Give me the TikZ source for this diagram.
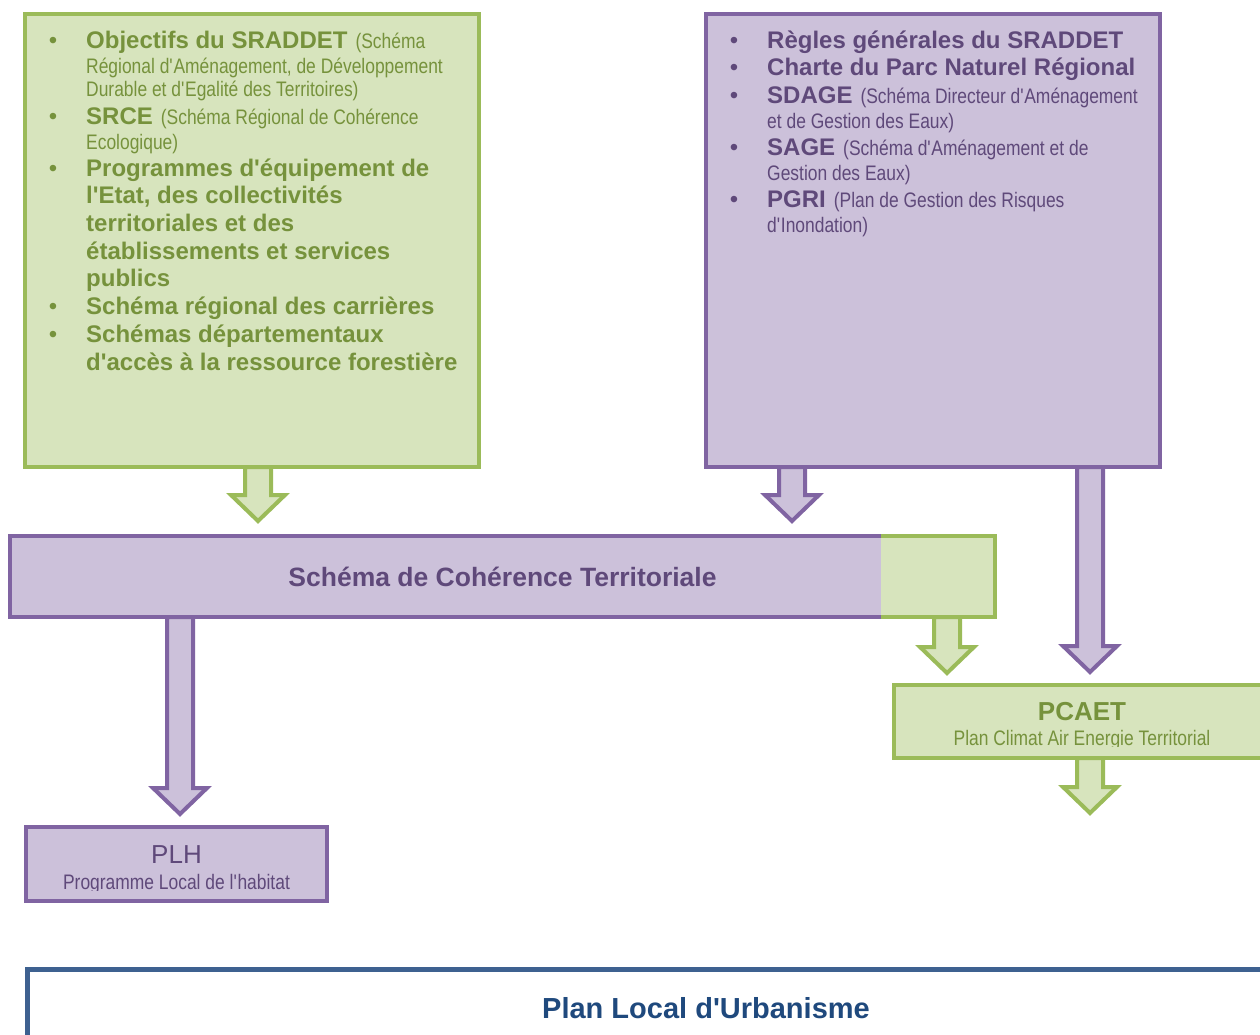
\documentclass[tikz,border=0pt]{standalone}
\usepackage{fontspec}
\setmainfont{Liberation Sans}
\newfontfamily\narrowfont{Liberation Sans}[FakeStretch=0.83]
\usetikzlibrary{calc}
\definecolor{gfill}{HTML}{D7E4BD}
\definecolor{gline}{HTML}{9BBB59}
\definecolor{gtext}{HTML}{76923C}
\definecolor{pfill}{HTML}{CCC1DA}
\definecolor{pline}{HTML}{8064A2}
\definecolor{ptext}{HTML}{5F497A}
\definecolor{bline}{HTML}{3E6190}
\definecolor{btext}{HTML}{1F497D}
\newcommand\B{\fontsize{24}{28}\selectfont\bfseries}
\newcommand\N{\narrowfont\fontsize{21}{24}\selectfont}
\newcommand\q{\textquotesingle}
\newcommand\gap{\hspace{8pt}}
\newcommand\bul{\llap{\fontsize{24}{28}\selectfont\textbullet\hspace{29pt}}}
\tikzset{
  boxG/.style={rectangle, draw=gline, fill=gfill, line width=4pt, inner sep=0pt, outer sep=0pt},
  boxP/.style={rectangle, draw=pline, fill=pfill, line width=4pt, inner sep=0pt, outer sep=0pt},
  fillonly/.style={rectangle, inner sep=0pt, outer sep=0pt, draw=none},
  arrG/.style={draw=gline, fill=gfill, line width=4pt, line join=miter},
  arrP/.style={draw=pline, fill=pfill, line width=4pt, line join=miter},
  gtxt/.style={anchor=base west, inner sep=0pt, text=gtext},
  ptxt/.style={anchor=base west, inner sep=0pt, text=ptext},
  ctext/.style={anchor=base, inner sep=0pt},
}
% block arrow: #1 style, #2 start (top centre), #3 tip
\newcommand\blockarrow[3]{%
  \draw[#1] let \p1=(#2), \p2=(#3) in
    (\x1-13pt,\y1) -- (\x1+13pt,\y1) -- (\x1+13pt,\y2+26pt) -- (\x1+27pt,\y2+26pt)
    -- (\x1,\y2) -- (\x1-27pt,\y2+26pt) -- (\x1-13pt,\y2+26pt) -- cycle;}
\begin{document}
\begin{tikzpicture}[x=1pt,y=-1pt]
\useasboundingbox (0,0) rectangle (1260,1035);
\clip (0,0) rectangle (1260,1035);
\fill[white] (0,0) rectangle (1260,1035);

% boxes
\node[boxG, minimum width=454pt, minimum height=453pt] (gbox) at (252,240.5) {};
\node[boxP, minimum width=454pt, minimum height=453pt] (pbox) at (933,240.5) {};
\node[fillonly, fill=gfill, minimum width=114pt, minimum height=81pt] (scotG) at (938,576.5) {};
\node[fillonly, fill=pfill, minimum width=871pt, minimum height=81pt] (scotP) at (445.5,576.5) {};
\draw[draw=pline, line width=4pt] (scotP.north east) -- (scotP.north west) -- (scotP.south west) -- (scotP.south east);
\draw[draw=gline, line width=4pt] (scotG.north west) -- (scotG.north east) -- (scotG.south east) -- (scotG.south west);
\node[boxG, minimum width=376pt, minimum height=73pt] (pcaet) at (1082,721.5) {};
\node[boxP, minimum width=301pt, minimum height=74pt] (plh) at (176.5,864) {};
\node[rectangle, draw=bline, fill=white, line width=5pt, inner sep=0pt, outer sep=0pt,
      minimum width=1358pt, minimum height=78pt] (plu) at (706,1008) {};

% arrow end points
\coordinate (a1s) at (258,0 |- gbox.south);
\coordinate (a1t) at ($(258,0 |- scotP.north)+(0,-15)$);
\coordinate (a2s) at (792,0 |- pbox.south);
\coordinate (a2t) at ($(792,0 |- scotP.north)+(0,-15)$);
\coordinate (a3s) at (180,0 |- scotP.south);
\coordinate (a3t) at ($(180,0 |- plh.north)+(0,-13)$);
\coordinate (a4s) at (947,0 |- scotG.south);
\coordinate (a4t) at ($(947,0 |- pcaet.north)+(0,-12)$);
\coordinate (a5s) at (1090,0 |- pbox.south);
\coordinate (a5t) at ($(1090,0 |- pcaet.north)+(0,-13)$);
\coordinate (a6s) at (1090,0 |- pcaet.south);
\coordinate (a6t) at ($(a6s)+(0,55)$);

\blockarrow{arrG}{a1s}{a1t}
\blockarrow{arrP}{a2s}{a2t}
\blockarrow{arrP}{a3s}{a3t}
\blockarrow{arrG}{a4s}{a4t}
\blockarrow{arrP}{a5s}{a5t}
\blockarrow{arrG}{a6s}{a6t}

% green list
\node[gtxt] (g1) at (86,49) {\bul{\B Objectifs du SRADDET}\gap{\N (Schéma}};
\node[gtxt] (g2) at (86,73.5) {\N Régional d\q Aménagement, de Développement};
\node[gtxt] (g3) at (86,96.5) {\N Durable et d\q Egalité des Territoires)};
\node[gtxt] (g4) at (86,124.5) {\bul{\B SRCE}\gap{\N (Schéma Régional de Cohérence}};
\node[gtxt] (g5) at (86,149.5) {\N Ecologique)};
\node[gtxt] (g6) at (86,176.5) {\bul\B Programmes d\q équipement de};
\node[gtxt] (g7) at (86,204) {\B l\q Etat, des collectivités};
\node[gtxt] (g8) at (86,231.5) {\B territoriales et des};
\node[gtxt] (g9) at (86,259) {\B établissements et services};
\node[gtxt] (g10) at (86,286.5) {\B publics};
\node[gtxt] (g11) at (86,314.5) {\bul\B Schéma régional des carrières};
\node[gtxt] (g12) at (86,342.5) {\bul\B Schémas départementaux};
\node[gtxt] (g13) at (86,370) {\B d\q accès à la ressource forestière};

% purple list
\node[ptxt] (p1) at (767,48.5) {\bul\B Règles générales du SRADDET};
\node[ptxt] (p2) at (767,75.5) {\bul\B Charte du Parc Naturel Régional};
\node[ptxt] (p3) at (767,103.5) {\bul{\B SDAGE}\gap{\N (Schéma Directeur d\q Aménagement}};
\node[ptxt] (p4) at (767,128.5) {\N et de Gestion des Eaux)};
\node[ptxt] (p5) at (767,155.5) {\bul{\B SAGE}\gap{\N (Schéma d\q Aménagement et de}};
\node[ptxt] (p6) at (767,180.5) {\N Gestion des Eaux)};
\node[ptxt] (p7) at (767,207.5) {\bul{\B PGRI}\gap{\N (Plan de Gestion des Risques}};
\node[ptxt] (p8) at (767,232.5) {\N d\q Inondation)};

% titles
\node[ctext, text=ptext, font=\fontsize{26.5}{30}\selectfont\bfseries] (scottxt)
  at ($(scotP.west)!0.5!(scotG.east)+(0,10)$) {Schéma de Cohérence Territoriale};
\node[ctext, text=gtext, font=\fontsize{26}{30}\selectfont\bfseries] (pcaettxt)
  at (1082,720) {PCAET};
\begin{scope}
  \clip (890,690) rectangle (1260,746.5);
  \node[ctext, text=gtext] (pcaetsub) at (1082,745) {\N Plan Climat Air Energie Territorial};
\end{scope}
\node[ctext, text=ptext, font=\fontsize{26}{30}\selectfont] (plhtxt) at (176.5,863.5) {PLH};
\begin{scope}
  \clip (30,870) rectangle (325,890.5);
  \node[ctext, text=ptext] (plhsub) at (176.5,889) {\N Programme Local de l\q habitat};
\end{scope}
\node[ctext, text=btext, font=\fontsize{29}{33}\selectfont\bfseries] (plutxt) at (706,1018.5) {Plan Local d\q Urbanisme};
\end{tikzpicture}
\end{document}
